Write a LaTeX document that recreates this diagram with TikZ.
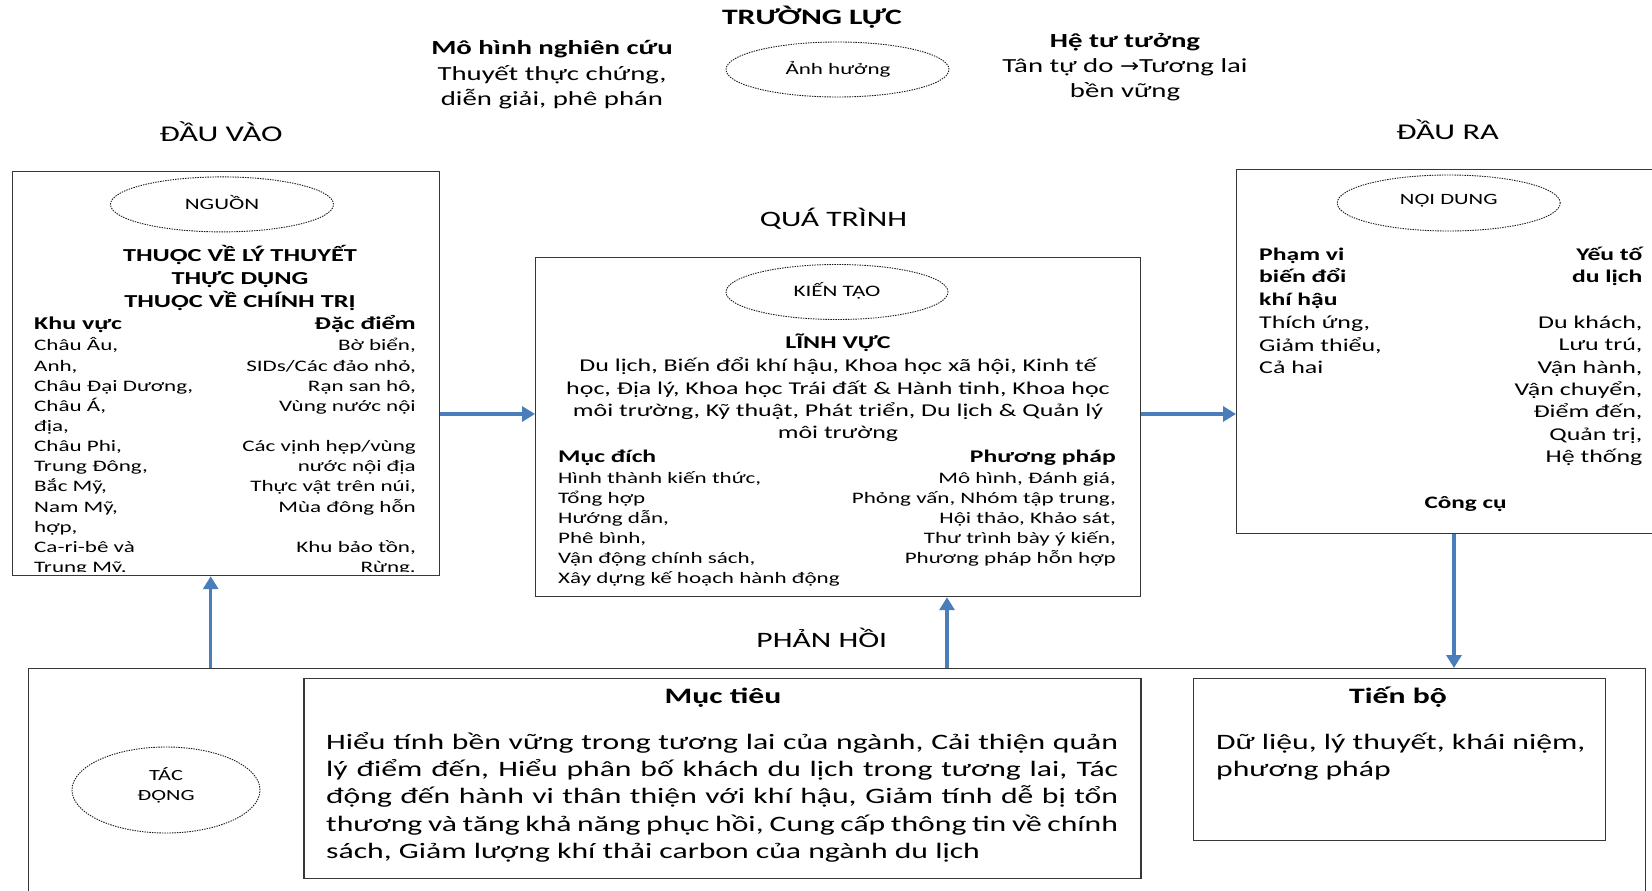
\documentclass[tikz,border=0pt]{standalone}
\usepackage{fontspec}
\setmainfont[FakeStretch=1.44]{Carlito}
\newfontfamily\symf[FakeStretch=1.2]{DejaVu Sans}
\usetikzlibrary{arrows.meta,shapes.geometric}
\definecolor{arrowblue}{RGB}{74,126,187}
\definecolor{edgegray}{RGB}{55,55,55}
\newcommand\fsz[1]{\fontsize{#1}{#1}\selectfont}
\tikzset{
  panel/.style={draw=edgegray, line width=1.2pt, inner sep=0pt, anchor=north west},
  bubble/.style={ellipse, draw=black!90, line width=0.9pt, dash pattern=on 1.4pt off 1.1pt, inner sep=0pt},
  flow/.style={draw=arrowblue, line width=3.2pt, -{Triangle[length=13pt,width=15pt]}},
  lbl/.style={inner sep=0pt, text=black},
  ln/.style={lbl, yshift=-5pt},
}
\begin{document}
\begin{tikzpicture}[x=1pt,y=-1pt]
\useasboundingbox[fill=white] (0,0) rectangle (1652,891);
\clip (0,0) rectangle (1652,891);

% ---------- top: field of forces ----------
\node[lbl, font=\bfseries\fsz{22}] (field) at (812,17) {TRƯỜNG LỰC};
\node[ln, font=\bfseries\fsz{20}, anchor=mid] (paradigm) at (552,47.4) {Mô hình nghiên cứu};
\node[ln, font=\fsz{20}, anchor=mid] (paradigm2) at (552,72.7) {Thuyết thực chứng,};
\node[ln, font=\fsz{20}, anchor=mid] (paradigm3) at (552,98) {diễn giải, phê phán};
\node[bubble, minimum width=223pt, minimum height=55pt] (influence) at (837.5,69.5) {};
\node[ln, font=\fsz{16}, anchor=mid] (influencet) at (838,67) {Ảnh hưởng};
\node[ln, font=\bfseries\fsz{20}, anchor=mid] (ideology) at (1125,40) {Hệ tư tưởng};
\node[ln, font=\fsz{20}, anchor=mid] (ideology2) at (1125,65.3) {Tân tự do {\symf\fsz{19}→}Tương lai};
\node[ln, font=\fsz{20}, anchor=mid] (ideology3) at (1125,90.6) {bền vững};

% ---------- section headings ----------
\node[lbl, font=\fsz{22.5}] (inputh) at (221,132) {ĐẦU VÀO};
\node[lbl, font=\fsz{22.5}] (outputh) at (1447.6,130) {ĐẦU RA};
\node[lbl, font=\fsz{22}] (processh) at (833.4,219) {QUÁ TRÌNH};
\node[lbl, font=\fsz{22}] (feedbackh) at (821.8,638) {PHẢN HỒI};

% ---------- panels ----------
\node[panel, minimum width=427pt, minimum height=404pt] (src) at (12,171) {};
\node[panel, minimum width=605pt, minimum height=339pt] (proc) at (535,257) {};
\node[panel, minimum width=500pt, minimum height=364pt] (outp) at (1236,169) {};
\node[panel, minimum width=1617pt, minimum height=300pt] (impact) at (28,668) {};
\node[panel, minimum width=837pt, minimum height=200pt] (goal) at (303.4,677.5) {};
\node[panel, minimum width=412pt, minimum height=162pt] (prog) at (1192.7,677.5) {};

% ---------- source panel ----------
\node[bubble, minimum width=223pt, minimum height=55pt] (srcb) at (222,204.4) {};
\node[lbl, font=\fsz{16}] (srcbt) at (222,202.5) {NGUỒN};
\node[ln, font=\bfseries\fsz{18.3}, anchor=mid] (th1) at (240,254) {THUỘC VỀ LÝ THUYẾT};
\node[ln, font=\bfseries\fsz{18.3}, anchor=mid] (th2) at (240,277) {THỰC DỤNG};
\node[ln, font=\bfseries\fsz{18.3}, anchor=mid] (th3) at (240,300) {THUỘC VỀ CHÍNH TRỊ};
\node[ln, font=\bfseries\fsz{18}, anchor=mid west] (region) at (34,322) {Khu vực};
\node[ln, font=\bfseries\fsz{18}, anchor=mid east] (feature) at (416,322) {Đặc điểm};
\begin{scope}
  % the two lists run past the panel's lower edge and are cut off there
  \clip (13,172) rectangle (438,571.5);
  \foreach \txt [count=\k from 0] in {{Châu Âu,},{Anh,},{Châu Đại Dương,},{Châu Á,},{địa,},{Châu Phi,},{Trung Đông,},{Bắc Mỹ,},{Nam Mỹ,},{hợp,},{Ca-ri-bê và},{Trung Mỹ.}}
    \node[ln, font=\fsz{16}, anchor=mid west] (rg\k) at (34,343.5+20.15*\k) {\txt};
  \node[ln, font=\fsz{16}, anchor=mid east] (ft0) at (416,343.5) {Bờ biển,};
  \node[ln, font=\fsz{16}, anchor=mid east] (ft1) at (416,363.65) {SIDs/Các đảo nhỏ,};
  \node[ln, font=\fsz{16}, anchor=mid east] (ft2) at (416,383.8) {Rạn san hô,};
  \node[ln, font=\fsz{16}, anchor=mid east] (ft3) at (416,403.95) {Vùng nước nội};
  \node[ln, font=\fsz{16}, anchor=mid east] (ft5) at (416,444.25) {Các vịnh hẹp/vùng};
  \node[ln, font=\fsz{16}, anchor=mid east] (ft6) at (416,464.4) {nước nội địa};
  \node[ln, font=\fsz{16}, anchor=mid east] (ft7) at (416,484.55) {Thực vật trên núi,};
  \node[ln, font=\fsz{16}, anchor=mid east] (ft8) at (416,504.7) {Mùa đông hỗn};
  \node[ln, font=\fsz{16}, anchor=mid east] (ft10) at (416,545) {Khu bảo tồn,};
  \node[ln, font=\fsz{16}, anchor=mid east] (ft11) at (416,565.15) {Rừng.};
\end{scope}

% ---------- process panel ----------
\node[bubble, minimum width=222pt, minimum height=55pt] (procb) at (837,292) {};
\node[lbl, font=\fsz{16}] (procbt) at (837,290.5) {KIẾN TẠO};
\node[ln, font=\bfseries\fsz{18}, anchor=mid] (domain) at (838,341.5) {LĨNH VỰC};
\node[ln, font=\fsz{18}, anchor=mid] (dom1) at (838,364.5) {Du lịch, Biến đổi khí hậu, Khoa học xã hội, Kinh tế};
\node[ln, font=\fsz{18}, anchor=mid] (dom2) at (838,386.7) {học, Địa lý, Khoa học Trái đất \& Hành tinh, Khoa học};
\node[ln, font=\fsz{18}, anchor=mid] (dom3) at (838,408.8) {môi trường, Kỹ thuật, Phát triển, Du lịch \& Quản lý};
\node[ln, font=\fsz{18}, anchor=mid] (dom4) at (838,430.9) {môi trường};
\node[ln, font=\bfseries\fsz{17.8}, anchor=mid west] (purpose) at (558,455) {Mục đích};
\node[ln, font=\bfseries\fsz{17.8}, anchor=mid east] (method) at (1116,455) {Phương pháp};
\foreach \txt [count=\k from 0] in {{Hình thành kiến thức,},{Tổng hợp},{Hướng dẫn,},{Phê bình,},{Vận động chính sách,},{Xây dựng kế hoạch hành động}}
  \node[ln, font=\fsz{16}, anchor=mid west] (pp\k) at (558,476+20*\k) {\txt};
\foreach \txt [count=\k from 0] in {{Mô hình, Đánh giá,},{Phỏng vấn, Nhóm tập trung,},{Hội thảo, Khảo sát,},{Thư trình bày ý kiến,},{Phương pháp hỗn hợp}}
  \node[ln, font=\fsz{16}, anchor=mid east] (mm\k) at (1116,476+20*\k) {\txt};

% ---------- output panel ----------
\node[bubble, minimum width=223pt, minimum height=56pt] (outb) at (1448.7,203) {};
\node[lbl, font=\fsz{15.7}] (outbt) at (1448.7,201) {NỘI DUNG};
\foreach \txt [count=\k from 0] in {{Phạm vi},{biến đổi},{khí hậu}}
  \node[ln, font=\bfseries\fsz{17.8}, anchor=mid west] (sc\k) at (1259,253+22.5*\k) {\txt};
\foreach \txt [count=\k from 0] in {{Thích ứng,},{Giảm thiểu,},{Cả hai}}
  \node[ln, font=\fsz{18}, anchor=mid west] (ad\k) at (1259,321+22.8*\k) {\txt};
\node[ln, font=\bfseries\fsz{17.8}, anchor=mid east] (tf0) at (1642.6,253) {Yếu tố};
\node[ln, font=\bfseries\fsz{17.8}, anchor=mid east] (tf1) at (1642.6,275.5) {du lịch};
\foreach \txt [count=\k from 0] in {{Du khách,},{Lưu trú,},{Vận hành,},{Vận chuyển,},{Điểm đến,},{Quản trị,},{Hệ thống}}
  \node[ln, font=\fsz{18}, anchor=mid east] (te\k) at (1642.6,321+22.35*\k) {\txt};
\node[ln, font=\bfseries\fsz{17.5}, anchor=mid] (tools) at (1465.6,501.5) {Công cụ};

% ---------- impact panel ----------
\node[bubble, minimum width=188pt, minimum height=86pt] (impb) at (166,790) {};
\node[ln, font=\fsz{15.5}, anchor=mid] (impb1) at (166,773) {TÁC};
\node[ln, font=\fsz{15.5}, anchor=mid] (impb2) at (166,793.5) {ĐỘNG};
\node[ln, font=\bfseries\fsz{22}, anchor=mid] (goalh) at (723,696) {Mục tiêu};
\node[ln, font=\fsz{22}, anchor=mid west] (g1) at (326,741.7) {\makebox[792pt][s]{Hiểu tính bền vững trong tương lai của ngành, Cải thiện quản}};
\node[ln, font=\fsz{22}, anchor=mid west] (g2) at (326,769.1) {\makebox[792pt][s]{lý điểm đến, Hiểu phân bố khách du lịch trong tương lai, Tác}};
\node[ln, font=\fsz{22}, anchor=mid west] (g3) at (326,796.5) {\makebox[792pt][s]{động đến hành vi thân thiện với khí hậu, Giảm tính dễ bị tổn}};
\node[ln, font=\fsz{22}, anchor=mid west] (g4) at (326,823.9) {\makebox[792pt][s]{thương và tăng khả năng phục hồi, Cung cấp thông tin về chính}};
\node[ln, font=\fsz{22}, anchor=mid west] (g5) at (326,851.3) {sách, Giảm lượng khí thải carbon của ngành du lịch};
\node[ln, font=\bfseries\fsz{22}, anchor=mid] (progh) at (1398,696) {Tiến bộ};
\node[ln, font=\fsz{22}, anchor=mid west] (p1) at (1216,741.7) {Dữ liệu, lý thuyết, khái niệm,};
\node[ln, font=\fsz{22}, anchor=mid west] (p2) at (1216,769.1) {phương pháp};

% ---------- connectors ----------
\coordinate (rowA) at (0,414);
\draw[flow] (src.east |- rowA) -- (proc.west |- rowA);
\draw[flow] (proc.east |- rowA) -- (outp.west |- rowA);
\coordinate (colA) at (210.7,0);
\coordinate (colB) at (947,0);
\coordinate (colC) at (1454,0);
\draw[flow] (impact.north -| colA) -- (src.south -| colA);
\draw[flow] (impact.north -| colB) -- (proc.south -| colB);
\draw[flow] (outp.south -| colC) -- (impact.north -| colC);
\end{tikzpicture}
\end{document}
